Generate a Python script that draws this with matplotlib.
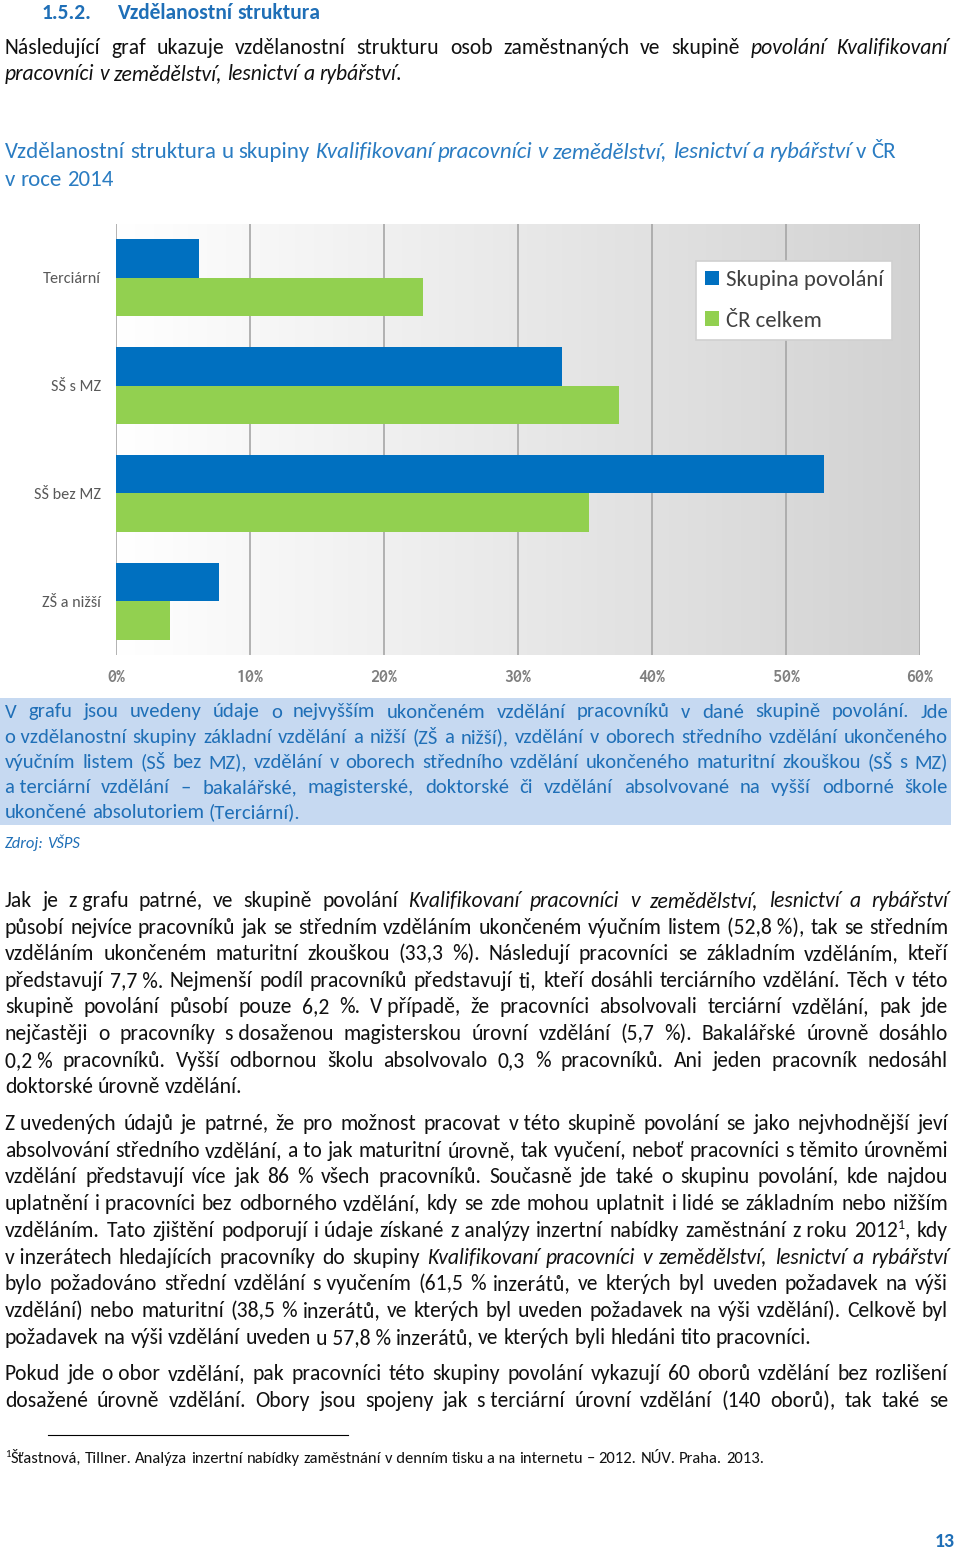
import numpy as np
import matplotlib.pyplot as plt
from matplotlib.patches import Rectangle
from matplotlib.lines import Line2D
from matplotlib.colors import LinearSegmentedColormap

# chart data
categories = ['Terciární', 'SŠ s MZ', 'SŠ bez MZ', 'ZŠ a nižší']
skupina = [6.2, 33.3, 52.8, 7.7]
cr_celkem = [22.9, 37.5, 35.3, 4.0]
series_names = ['Skupina povolání', 'ČR celkem']
x_ticks = [0, 10, 20, 30, 40, 50, 60]
x_tick_labels = ['0%', '10%', '20%', '30%', '40%', '50%', '60%']

# page text (*...* = italic, ^x = superscript, \u00a0 = fixed space)
heading_num = '1.5.2.'
heading = 'Vzdělanostní struktura'
intro = [
    'Následující graf ukazuje vzdělanostní strukturu osob zaměstnaných ve skupině *povolání Kvalifikovaní*',
    '*pracovníci v zemědělství, lesnictví a rybářství*.',
]
title = [
    'Vzdělanostní struktura u skupiny *Kvalifikovaní pracovníci v zemědělství, lesnictví a rybářství* v ČR',
    'v roce 2014',
]
caption = [
    'V grafu jsou uvedeny údaje o nejvyšším ukončeném vzdělání pracovníků v dané skupině povolání. Jde',
    'o\u00a0vzdělanostní skupiny základní vzdělání a nižší (ZŠ a nižší), vzdělání v oborech středního vzdělání ukončeného',
    'výučním listem (SŠ bez MZ), vzdělání v oborech středního vzdělání ukončeného maturitní zkouškou (SŠ s MZ)',
    'a\u00a0terciární vzdělání – bakalářské, magisterské, doktorské či vzdělání absolvované na vyšší odborné škole',
    'ukončené absolutoriem (Terciární).',
]
source = '*Zdroj: VŠPS*'
para1 = [
    'Jak je z\u00a0grafu patrné, ve skupině povolání *Kvalifikovaní pracovníci v zemědělství, lesnictví a rybářství*',
    'působí nejvíce pracovníků jak se středním vzděláním ukončeném výučním listem (52,8\u00a0%), tak se středním',
    'vzděláním ukončeném maturitní zkouškou (33,3 %). Následují pracovníci se základním vzděláním, kteří',
    'představují 7,7\u00a0%. Nejmenší podíl pracovníků představují ti, kteří dosáhli terciárního vzdělání. Těch v této',
    'skupině povolání působí pouze 6,2 %. V\u00a0případě, že pracovníci absolvovali terciární vzdělání, pak jde',
    'nejčastěji o pracovníky s\u00a0dosaženou magisterskou úrovní vzdělání (5,7 %). Bakalářské úrovně dosáhlo',
    '0,2\u00a0% pracovníků. Vyšší odbornou školu absolvovalo 0,3 % pracovníků. Ani jeden pracovník nedosáhl',
    'doktorské úrovně vzdělání.',
]
para2 = [
    'Z\u00a0uvedených údajů je patrné, že pro možnost pracovat v\u00a0této skupině povolání se jako nejvhodnější jeví',
    'absolvování středního vzdělání, a\u00a0to jak maturitní úrovně, tak vyučení, neboť pracovníci s\u00a0těmito úrovněmi',
    'vzdělání představují více jak 86 % všech pracovníků. Současně jde také o skupinu povolání, kde najdou',
    'uplatnění i\u00a0pracovníci bez odborného vzdělání, kdy se zde mohou uplatnit i\u00a0lidé se základním nebo nižším',
    'vzděláním. Tato zjištění podporují i\u00a0údaje získané z\u00a0analýzy inzertní nabídky zaměstnání z\u00a0roku 2012^1, kdy',
    'v\u00a0inzerátech hledajících pracovníky do skupiny *Kvalifikovaní pracovníci v zemědělství, lesnictví a rybářství*',
    'bylo požadováno střední vzdělání s\u00a0vyučením (61,5 % inzerátů, ve kterých byl uveden požadavek na výši',
    'vzdělání) nebo maturitní (38,5 % inzerátů, ve kterých byl uveden požadavek na výši vzdělání). Celkově byl',
    'požadavek na výši vzdělání uveden u\u00a057,8\u00a0% inzerátů, ve kterých byli hledáni tito pracovníci.',
]
para3 = [
    'Pokud jde o\u00a0obor vzdělání, pak pracovníci této skupiny povolání vykazují 60 oborů vzdělání bez rozlišení',
    'dosažené úrovně vzdělání. Obory jsou spojeny jak s\u00a0terciární úrovní vzdělání (140 oborů), tak také se',
]
footnote = '^1Šťastnová, Tillner. Analýza inzertní nabídky zaměstnání v\u00a0denním tisku a\u00a0na internetu – 2012. NÚV. Praha. 2013.'
page_no = '13'

W, H = 960, 1551
SANS = ['Carlito', 'Lato', 'DejaVu Sans']
MONO = ['Inconsolata', 'DejaVu Sans Mono']
BLUE_TXT = '#1f6fb7'
BODY = '#111111'

fig = plt.figure(figsize=(W / 100, H / 100), dpi=100)
renderer = fig.canvas.get_renderer()


def pt(px):
    return px * 0.72


def parse(line):
    words, pieces, buf = [], [], ''
    italic = False
    i = 0
    while i < len(line):
        ch = line[i]
        if ch in '*^ ':
            if buf:
                pieces.append((buf, italic, False))
                buf = ''
            if ch == '*':
                italic = not italic
            elif ch == '^':
                pieces.append((line[i + 1], italic, True))
                i += 1
            elif pieces:
                words.append(pieces)
                pieces = []
        else:
            buf += ch
        i += 1
    if buf:
        pieces.append((buf, italic, False))
    if pieces:
        words.append(pieces)
    return words


def ink_width(text, fs, italic, weight):
    t = fig.text(0, 0, text, fontsize=pt(fs), family=SANS,
                 style='italic' if italic else 'normal', weight=weight)
    w = t.get_window_extent(renderer).width
    t.remove()
    return w


def piece_width(text, size, italic, sup, weight):
    # advance width: ink of "x..x" minus ink of "xx"
    fs = size * (0.65 if sup else 1)
    return ink_width('x' + text + 'x', fs, italic, weight) - ink_width('xx', fs, italic, weight)


def measure(line, size, weight='normal'):
    words = parse(line)
    widths = [[piece_width(p[0], size, p[1], p[2], weight) for p in w] for w in words]
    return words, widths


def natural_width(line, size, weight='normal'):
    words, widths = measure(line, size, weight)
    return sum(sum(ws) for ws in widths) + 0.226 * size * (len(words) - 1)


def fit_size(line, target, weight='normal'):
    return 20 * target / natural_width(line, 20, weight)


def draw_line(line, x0, x1, base, size, color, justify=True, weight='normal'):
    words, widths = measure(line, size, weight)
    total = sum(sum(ws) for ws in widths)
    if justify and len(words) > 1:
        gap = (x1 - x0 - total) / (len(words) - 1)
    else:
        gap = 0.226 * size
    x = x0
    for w, ws in zip(words, widths):
        for (text, it, sup), pw in zip(w, ws):
            fs = size * (0.65 if sup else 1)
            yb = base - (0.38 * size if sup else 0)
            fig.text(x / W, 1 - yb / H, text, fontsize=pt(fs), family=SANS,
                     style='italic' if it else 'normal', weight=weight,
                     color=color, ha='left', va='baseline')
            x += pw
        x += gap


def draw_paragraph(lines, x0, x1, base0, step, size, color, last_justified=False):
    for k, line in enumerate(lines):
        last = k == len(lines) - 1
        draw_line(line, x0, x1, base0 + k * step, size, color,
                  justify=(not last) or last_justified)


# heading
hs = fit_size(heading, 204, weight='bold')
draw_line(heading_num, 42, 42, 19, hs, BLUE_TXT, justify=False, weight='bold')
draw_line(heading, 118, 118, 19, hs, BLUE_TXT, justify=False, weight='bold')

# intro paragraph
draw_paragraph(intro, 5, 948, 54, 26.5, 21.7, BODY)

# chart title
ts = fit_size(title[0], 890)
draw_line(title[0], 5, 5, 158, ts, '#2a7cc2', justify=False)
draw_line(title[1], 5, 5, 186, ts, '#2a7cc2', justify=False)

# chart
ax = fig.add_axes([116 / W, 1 - 655 / H, 804 / W, 431 / H])
bg = LinearSegmentedColormap.from_list('bg', ['#ffffff', '#d2d2d2'])
ax.imshow(np.linspace(0, 1, 256).reshape(1, -1), cmap=bg, aspect='auto',
          extent=[0, 60, 3.5, -0.5], zorder=0)
y = np.arange(len(categories))
h = 0.357
ax.barh(y - h / 2, skupina, height=h, color='#0070c0', zorder=3, label=series_names[0])
ax.barh(y + h / 2, cr_celkem, height=h, color='#92d050', zorder=3, label=series_names[1])
ax.set_xlim(0, 60)
ax.set_ylim(3.5, -0.5)
ax.set_xticks(x_ticks, x_tick_labels)
ax.set_yticks(y, categories)
ax.grid(axis='x', color='#a6a6a6', lw=1.2, zorder=1)
ax.grid(axis='y', visible=False)
for s in ax.spines.values():
    s.set_visible(False)
ax.tick_params(axis='x', length=0, pad=10, labelsize=13, labelcolor='#7f7f7f')
ax.tick_params(axis='y', length=0, pad=11, labelsize=11.7, labelcolor='#595959')
for lab in ax.get_xticklabels():
    lab.set_family(MONO)
    lab.set_weight('bold')
for lab in ax.get_yticklabels():
    lab.set_family(SANS)
leg = ax.legend(loc='upper left', bbox_to_anchor=(696 / W, 1 - 261 / H),
                bbox_transform=fig.transFigure, borderaxespad=0, fancybox=False,
                edgecolor='#d0d0d0', facecolor='white', framealpha=1,
                prop={'family': SANS, 'size': 16.4}, labelcolor='#404040',
                handlelength=0.6, handleheight=0.6, handletextpad=0.3,
                labelspacing=0.9, borderpad=0.4)
leg.get_frame().set_linewidth(1.2)

# caption box
fig.add_artist(Rectangle((0, 1 - 825 / H), 951 / W, 127 / H, transform=fig.transFigure,
                         facecolor='#c6d9f1', edgecolor='none', zorder=0))
draw_paragraph(caption, 5, 948, 717.5, 25.2, 20.6, BLUE_TXT)
draw_line(source, 5, 5, 848, fit_size(source, 75), BLUE_TXT, justify=False)

# body text
draw_paragraph(para1, 5, 948, 907, 26.6, 21.7, BODY)
draw_paragraph(para2, 5, 948, 1130, 26.7, 21.7, BODY)
draw_paragraph(para3, 5, 948, 1380, 26.6, 21.7, BODY, last_justified=True)

# footnote
fig.add_artist(Line2D([48 / W, 348 / W], [1 - 1435 / H] * 2, transform=fig.transFigure,
                      color='black', lw=0.8))
draw_line(footnote, 5, 5, 1463, fit_size(footnote, 758), BODY, justify=False)

# page number
draw_line(page_no, 935, 935, 1547, fit_size(page_no, 20, weight='bold'), BLUE_TXT,
          justify=False, weight='bold')

fig.savefig('out.png', dpi=100)
